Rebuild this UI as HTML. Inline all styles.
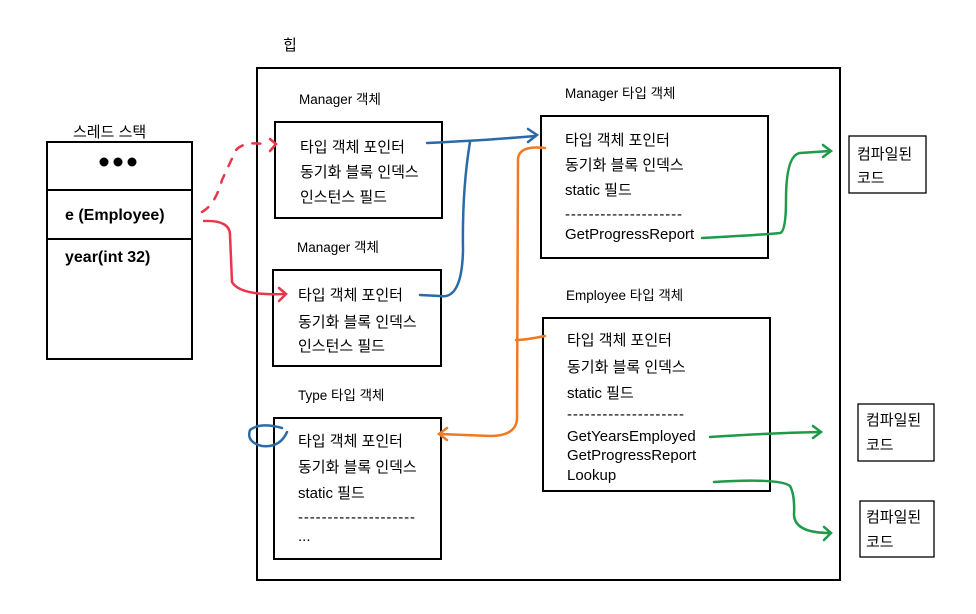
<!DOCTYPE html>
<html><head><meta charset="utf-8"><style>
body{margin:0;background:#fff}
svg text{font-family:"Liberation Sans","Noto Sans CJK KR",sans-serif;font-size:15px;fill:#000}
.s{font-size:13.5px}
.b{font-weight:bold;font-size:16px}
.d{letter-spacing:0.9px}
</style></head><body>
<svg width="976" height="609" viewBox="0 0 976 609" xmlns="http://www.w3.org/2000/svg">
<g fill="none" stroke="#000" stroke-width="2">
<rect x="257" y="68" width="583" height="512"/>
<rect x="47" y="142" width="145" height="217"/>
<line x1="47" y1="190" x2="193" y2="190"/>
<line x1="47" y1="239" x2="193" y2="239"/>
<rect x="275" y="122" width="167" height="96"/>
<rect x="273" y="270" width="168" height="96"/>
<rect x="274" y="418" width="167" height="141"/>
<rect x="541" y="116" width="227" height="142"/>
<rect x="543" y="318" width="227" height="173"/>
<rect x="849" y="136" width="77" height="57" stroke-width="1.3"/>
<rect x="858" y="404" width="76" height="57" stroke-width="1.3"/>
<rect x="860" y="501" width="74" height="56" stroke-width="1.3"/>
</g>
<text x="283" y="50">힙</text>
<text x="73" y="137" style="font-size:15px">스레드 스택</text>
<g fill="#000"><circle cx="104" cy="162" r="4.5"/><circle cx="118" cy="162" r="4.5"/><circle cx="132" cy="162" r="4.5"/></g>
<text x="65" y="220" class="b">e (Employee)</text>
<text x="65" y="262" class="b">year(int 32)</text>
<text x="299" y="104" class="s">Manager 객체</text>
<text x="297" y="252" class="s">Manager 객체</text>
<text x="298" y="400" class="s">Type 타입 객체</text>
<text x="565" y="98" class="s">Manager 타입 객체</text>
<text x="566" y="300" class="s">Employee 타입 객체</text>
<g>
<text x="300" y="152">타입 객체 포인터</text><text x="300" y="177">동기화 블록 인덱스</text><text x="300" y="202">인스턴스 필드</text>
<text x="298" y="300">타입 객체 포인터</text><text x="298" y="327">동기화 블록 인덱스</text><text x="298" y="351">인스턴스 필드</text>
<text x="298" y="446">타입 객체 포인터</text><text x="298" y="472">동기화 블록 인덱스</text><text x="298" y="498">static 필드</text><text x="298" y="522" class="d">--------------------</text><text x="298" y="541">...</text>
<text x="565" y="145">타입 객체 포인터</text><text x="565" y="170">동기화 블록 인덱스</text><text x="565" y="195">static 필드</text><text x="565" y="219" class="d">--------------------</text><text x="565" y="239">GetProgressReport</text>
<text x="567" y="345">타입 객체 포인터</text><text x="567" y="372">동기화 블록 인덱스</text><text x="567" y="398">static 필드</text><text x="567" y="419" class="d">--------------------</text><text x="567" y="441">GetYearsEmployed</text><text x="567" y="460">GetProgressReport</text><text x="567" y="480">Lookup</text>
<text x="857" y="159">컴파일된</text><text x="857" y="183">코드</text>
<text x="866" y="425">컴파일된</text><text x="866" y="450">코드</text>
<text x="866" y="522">컴파일된</text><text x="866" y="547">코드</text>
</g>
<g fill="none" stroke-width="2.5" stroke-linecap="round">
<path d="M202 212 Q215 205 222 180 L236 150 Q245 140 270 145" stroke="#e8364a" stroke-dasharray="8 10"/>
<path d="M270 139 L276 144 L270 151" stroke="#e8364a"/>
<path d="M204 221 Q230 220 230 235 L232 282 Q240 296 285 294" stroke="#e8364a"/>
<path d="M279 288 L286 294 L279 301" stroke="#e8364a"/>
<path d="M427 143 Q490 140 535 136 M470 142 Q462 190 463 250 Q462 300 440 296 L420 295" stroke="#2a6aa8"/>
<path d="M528 129 L537 135 L528 142" stroke="#2a6aa8"/>
<path d="M282 428 Q260 422 250 430 Q246 442 262 446 Q280 448 287 432" stroke="#2a6aa8"/>
<path d="M545 148 Q518 145 518 160 L517 420 Q515 436 490 436 L440 434 M516 340 Q525 340 545 336" stroke="#f07a24"/>
<path d="M447 428 L439 434 L447 440" stroke="#f07a24"/>
<path d="M702 238 Q760 235 780 233 Q786 232 786 200 Q786 155 800 153 L830 151" stroke="#1e9a4a"/>
<path d="M823 145 L831 151 L823 157" stroke="#1e9a4a"/>
<path d="M710 437 Q770 433 820 432" stroke="#1e9a4a"/>
<path d="M813 426 L821 432 L813 438" stroke="#1e9a4a"/>
<path d="M714 482 Q780 478 790 486 Q795 495 794 515 Q795 533 830 533" stroke="#1e9a4a"/>
<path d="M824 527 L831 533 L824 540" stroke="#1e9a4a"/>
</g>
</svg>
</body></html>
